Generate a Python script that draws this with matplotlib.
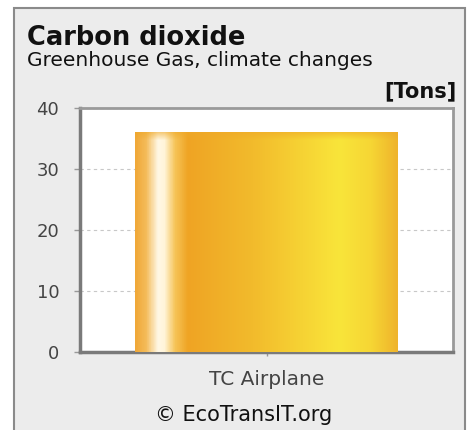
import numpy as np
import matplotlib
matplotlib.use("Agg")
import matplotlib.pyplot as plt
from matplotlib.patches import Rectangle
from matplotlib.colors import LinearSegmentedColormap, to_rgb

# Data
categories = ["TC Airplane"]
values = [36]
y_ticks = [0, 10, 20, 30, 40]
title = "Carbon dioxide"
subtitle = "Greenhouse Gas, climate changes"
unit = "[Tons]"
credit = "\u00a9 EcoTransIT.org"

W, H = 467, 430
fig = plt.figure(figsize=(W / 100, H / 100), dpi=100)
fig.patch.set_facecolor("white")

# Panel frame behind the chart
frame = Rectangle((14 / W, -0.05), (465 - 14) / W, 1.05 - 8 / H,
                  transform=fig.transFigure, facecolor="#ececec",
                  edgecolor="#8a8a8a", linewidth=1.5, zorder=-10)
fig.patches.append(frame)

ax = fig.add_axes([80 / W, (H - 352) / H, (453 - 80) / W, (352 - 108) / H])
ax.set_zorder(1)
ax.set_facecolor("white")

x = np.arange(len(categories))
bars = ax.bar(x, values, width=1.0, color="none", edgecolor="none", zorder=3)

# Horizontal cylinder-like shading of the bar
stops = [
    (0.00, "#f0a838"),
    (0.04, "#f4bc5a"),
    (0.085, "#fff8e6"),
    (0.11, "#fff4d8"),
    (0.15, "#f6c458"),
    (0.20, "#efa424"),
    (0.45, "#f2bb2c"),
    (0.78, "#f9e53a"),
    (0.90, "#f6d634"),
    (1.00, "#efb42c"),
]
cmap = LinearSegmentedColormap.from_list("barshade", stops)
nx, ny = 400, 200
cols = cmap(np.linspace(0, 1, nx))[:, :3]
img = np.tile(cols[None, :, :], (ny, 1, 1))
# slightly deeper band along the top edge
top_c = np.array(to_rgb("#eea828"))
yy = np.linspace(0, 1, ny)[:, None, None]
w_top = np.clip(1 - yy / 0.035, 0, 1) * 0.55
img = img * (1 - w_top) + top_c * w_top

for b in bars:
    x0, y0 = b.get_x(), b.get_y()
    im = ax.imshow(img, extent=[x0, x0 + b.get_width(), y0, y0 + b.get_height()],
                   aspect="auto", zorder=3, interpolation="bilinear", origin="upper")
    im.set_clip_path(b)

ax.set_xlim(-0.71, 0.71)
ax.set_ylim(0, 40)

# Grid and axes styling
ax.set_yticks(y_ticks)
ax.yaxis.grid(True, linestyle=(0, (3, 3)), color="#c8c8c8", linewidth=0.8, zorder=1)
ax.set_axisbelow(True)
ax.set_xticks(x)
ax.set_xticklabels(categories)
ax.tick_params(axis="y", length=4, width=1, color="#999999", labelcolor="#444444",
               labelsize=13, pad=11)
ax.tick_params(axis="x", length=3, width=1, color="#999999", labelcolor="#444444",
               labelsize=14.5, pad=10)
for s in ["left", "bottom"]:
    ax.spines[s].set_color("#7a7a7a")
    ax.spines[s].set_linewidth(2.5)
for s in ["top", "right"]:
    ax.spines[s].set_color("#9a9a9a")
    ax.spines[s].set_linewidth(2.0)

# Titles and labels
fig.text(27 / W, 1 - 45 / H, title, fontsize=18.5, fontweight="bold",
         color="#111111", va="baseline", ha="left")
fig.text(27 / W, 1 - 66 / H, subtitle, fontsize=14.5, color="#111111",
         va="baseline", ha="left")
fig.text(456 / W, 1 - 97 / H, unit, fontsize=15, fontweight="bold",
         color="#111111", va="baseline", ha="right")
fig.text(244 / W, 1 - 421 / H, credit, fontsize=15, color="#111111",
         va="baseline", ha="center")

fig.savefig("out.png", dpi=100, facecolor=fig.get_facecolor())
